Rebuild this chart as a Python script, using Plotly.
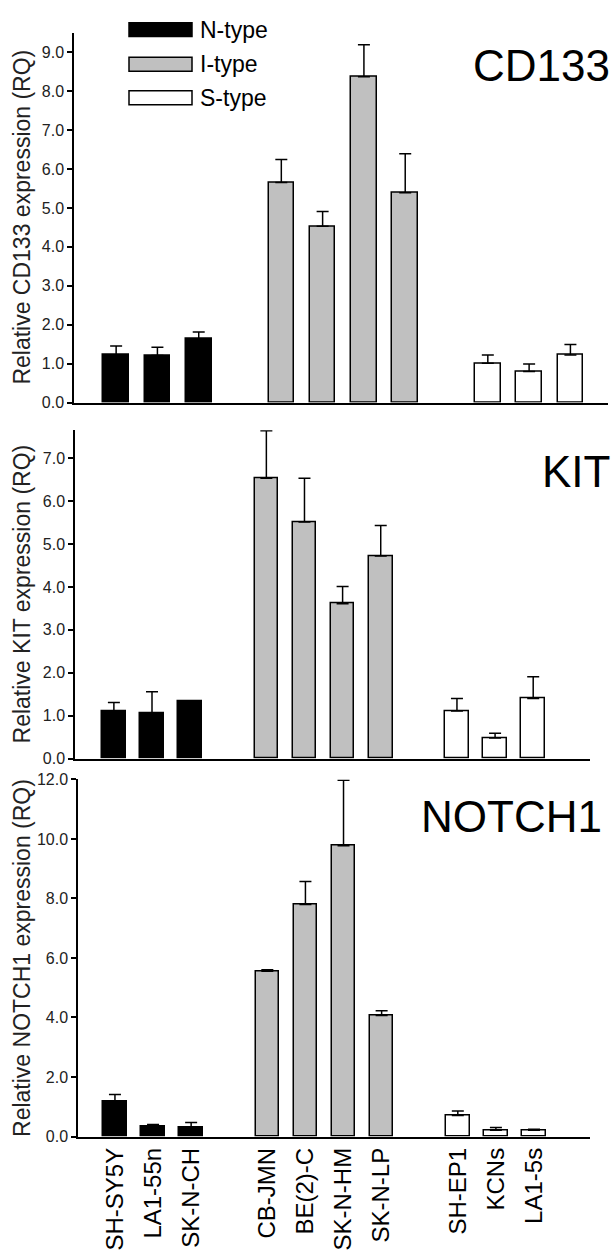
import plotly.graph_objects as go

W, H = 614, 1255

# ---------------- data ----------------
cell_lines = ["SH-SY5Y", "LA1-55n", "SK-N-CH",
              "CB-JMN", "BE(2)-C", "SK-N-HM", "SK-N-LP",
              "SH-EP1", "KCNs", "LA1-5s"]
cell_types = ["N-type"] * 3 + ["I-type"] * 4 + ["S-type"] * 3
type_names = ["N-type", "I-type", "S-type"]

cd133_mean = [1.22, 1.21, 1.63, 5.65, 4.53, 8.37, 5.39, 1.01, 0.80, 1.22]
cd133_sd = [0.23, 0.21, 0.18, 0.59, 0.38, 0.82, 1.00, 0.21, 0.19, 0.27]

kit_mean = [1.10, 1.07, 1.33, 6.53, 5.51, 3.61, 4.72, 1.11, 0.48, 1.40]
kit_sd = [0.21, 0.49, 0.0, 1.11, 1.02, 0.40, 0.71, 0.29, 0.11, 0.51]

notch1_mean = [1.17, 0.34, 0.31, 5.55, 7.80, 9.77, 4.07, 0.71, 0.21, 0.21]
notch1_sd = [0.24, 0.06, 0.16, 0.05, 0.77, 2.20, 0.16, 0.15, 0.09, 0.03]

genes = ["CD133", "KIT", "NOTCH1"]
y_titles = ["Relative CD133 expression (RQ)",
            "Relative KIT expression (RQ)",
            "Relative NOTCH1 expression (RQ)"]
y_ticks = [[0, 1, 2, 3, 4, 5, 6, 7, 8, 9],
           [0, 1, 2, 3, 4, 5, 6, 7],
           [0, 2, 4, 6, 8, 10, 12]]

# ---------------- styles / layout ----------------
fill = {"N-type": "#000000", "I-type": "#c0c0c0", "S-type": "#ffffff"}
FONT = "Liberation Sans, Arial, sans-serif"

# panel geometry in pixels: (x_left, x_right, y_top, y_bottom)
panels_px = [(74, 608, 25, 400), (75, 590, 428, 761), (78, 590, 782, 1144)]
x_ranges = [[-1.02, 11.91], [-1.02, 12.49], [-0.97, 12.47]]
y_ranges = [[0, 9.5], [0, 7.65], [0, 12.0]]


def px_x(v):
    return v / W


def px_y(v):
    return 1 - v / H


# group-based slot positions (gap of one slot between groups)
positions = [i + type_names.index(t) for i, t in enumerate(cell_types)]

means = [cd133_mean, kit_mean, notch1_mean]
sds = [cd133_sd, kit_sd, notch1_sd]

fig = go.Figure()

for p in range(3):
    xa = "x" if p == 0 else f"x{p + 1}"
    ya = "y" if p == 0 else f"y{p + 1}"
    for t in type_names:
        idx = [i for i, c in enumerate(cell_types) if c == t]
        fig.add_trace(go.Bar(
            x=[positions[i] for i in idx],
            y=[means[p][i] for i in idx],
            width=0.62,
            marker=dict(color=fill[t], line=dict(color="black", width=1.5)),
            error_y=dict(type="data", symmetric=False,
                         array=[sds[p][i] for i in idx],
                         arrayminus=[0] * len(idx),
                         color="black", thickness=1.5, width=6),
            xaxis=xa, yaxis=ya, showlegend=False, name=t,
        ))

layout = dict(
    width=W, height=H,
    margin=dict(l=0, r=0, t=0, b=0),
    paper_bgcolor="white", plot_bgcolor="white",
    font=dict(family=FONT, color="black"),
    bargap=0,
)

for p in range(3):
    xl, xr, yt, yb = panels_px[p]
    xk = "xaxis" if p == 0 else f"xaxis{p + 1}"
    yk = "yaxis" if p == 0 else f"yaxis{p + 1}"
    ya = "y" if p == 0 else f"y{p + 1}"
    xa = "x" if p == 0 else f"x{p + 1}"
    xdict = dict(
        domain=[px_x(xl), px_x(xr)], range=x_ranges[p], anchor=ya,
        showline=True, linecolor="black", linewidth=1.5,
        showgrid=False, zeroline=False, ticks="",
        showticklabels=False, fixedrange=True,
    )
    if p == 2:
        xdict.update(
            showticklabels=True, tickmode="array",
            tickvals=positions, ticktext=cell_lines, tickangle=-90,
            tickfont=dict(family=FONT, size=24, color="black"),
        )
    layout[xk] = xdict
    layout[yk] = dict(
        domain=[px_y(yb), px_y(yt)], range=y_ranges[p], anchor=xa,
        showline=True, linecolor="black", linewidth=1.5,
        showgrid=False, zeroline=False,
        ticks="outside", ticklen=5, tickwidth=1.5, tickcolor="black",
        tickmode="array", tickvals=y_ticks[p],
        ticktext=[f"{v:.1f}" for v in y_ticks[p]],
        tickfont=dict(family=FONT, size=16, color="#222222"),
    )

fig.update_layout(**layout)

annotations = []
shapes = []

# y-axis titles
for p in range(3):
    xl, xr, yt, yb = panels_px[p]
    annotations.append(dict(
        xref="paper", yref="paper", x=px_x(22), y=px_y((yt + yb) / 2),
        text=y_titles[p], textangle=-90, showarrow=False,
        xanchor="center", yanchor="middle",
        font=dict(family=FONT, size=23, color="#222222"),
    ))

# gene labels
gene_pos = [(612, 58), (612, 470), (604, 820)]
for g, (gx, gy) in zip(genes, gene_pos):
    annotations.append(dict(
        xref="paper", yref="paper", x=px_x(gx), y=px_y(gy),
        text=g, showarrow=False, xanchor="right", yanchor="middle",
        font=dict(family=FONT, size=44, color="black"),
    ))

# legend (drawn as boxes + text)
legend_rows = [(15, 29), (50, 64), (84, 98)]
for t, (y0, y1) in zip(type_names, legend_rows):
    shapes.append(dict(
        type="rect", xref="paper", yref="paper",
        x0=px_x(129), x1=px_x(192), y0=px_y(y1), y1=px_y(y0),
        fillcolor=fill[t], line=dict(color="black", width=1.5),
    ))
    annotations.append(dict(
        xref="paper", yref="paper", x=px_x(198), y=px_y((y0 + y1) / 2),
        text=t, showarrow=False, xanchor="left", yanchor="middle",
        font=dict(family=FONT, size=23, color="black"),
    ))

fig.update_layout(annotations=annotations, shapes=shapes)

fig.write_html(
    "out.html",
    config={"displayModeBar": False},
    post_script="document.body.style.margin='0';"
                "document.body.style.overflow='hidden';",
)
